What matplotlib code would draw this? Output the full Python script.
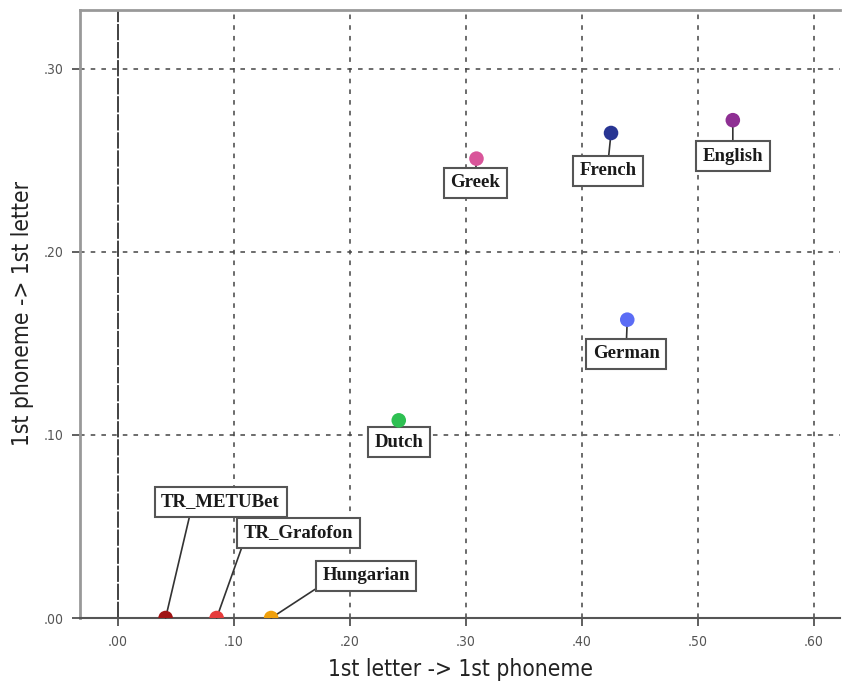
import matplotlib
matplotlib.use("Agg")
import matplotlib.pyplot as plt
from matplotlib import font_manager

languages = ["Greek", "French", "English", "German", "Dutch",
             "TR_METUBet", "TR_Grafofon", "Hungarian"]
letter_to_phoneme = [0.309, 0.425, 0.530, 0.439, 0.242, 0.041, 0.085, 0.132]
phoneme_to_letter = [0.251, 0.265, 0.272, 0.163, 0.108, 0.000, 0.000, 0.000]
colors = ["#d9559a", "#283593", "#8e2f93", "#5b6cf5", "#2ec052",
          "#a01414", "#e63c3c", "#f0a00c"]
# label offsets (pixels) and attachment point on the label box
offsets = [(-1, -24), (-3, -38), (0, -36), (-1, -34), (0, -22),
           (55, 116), (82, 85), (95, 42)]
relpos = [(0.5, 1), (0.5, 1), (0.5, 1), (0.5, 1), (0.5, 1),
          (0.25, 0), (0.0, 0.0), (0.0, 0.0)]

xticks = [0.0, 0.1, 0.2, 0.3, 0.4, 0.5, 0.6]
yticks = [0.0, 0.1, 0.2, 0.3]
fmt = lambda v: "." + f"{v:.2f}".split(".")[1]

cond = None
for f in font_manager.fontManager.ttflist:
    if f.name == "DejaVu Sans" and "Condensed" in f.fname and "Bold" not in f.fname and "Oblique" not in f.fname:
        cond = f.fname
        break
if cond:
    narrow_fp = dict(fontproperties=font_manager.FontProperties(fname=cond))
else:
    narrow_fp = dict(family="DejaVu Sans")

fig = plt.figure(figsize=(8.43, 6.81), dpi=100)
ax = fig.add_axes([80 / 843, 63 / 681, 760 / 843, 608 / 681])
ax.set_xlim(-0.0328, 0.6224)
ax.set_ylim(0, 0.3322)

for x in xticks[1:]:
    ax.axvline(x, color="#444444", lw=1.1, ls=(0, (3, 4)), zorder=1)
for y in yticks[1:]:
    ax.axhline(y, color="#444444", lw=1.1, ls=(0, (3, 4)), zorder=1)
ax.axvline(0, color="#333333", lw=1.3, ls=(0, (9, 1)), zorder=1)

ax.scatter(letter_to_phoneme, phoneme_to_letter, s=110, c=colors,
           zorder=5, clip_on=True, edgecolors="none")

for name, x, y, off, rp in zip(languages, letter_to_phoneme,
                               phoneme_to_letter, offsets, relpos):
    ax.annotate(name, xy=(x, y), xytext=off, textcoords="offset pixels",
                ha="center", va="center", fontsize=13.5, fontweight="bold",
                family=["Liberation Serif", "DejaVu Serif"], color="#1a1a1a",
                bbox=dict(boxstyle="square,pad=0.35", fc="white",
                          ec="#555555", lw=1.5),
                arrowprops=dict(arrowstyle="-", color="#333333", lw=1.2,
                                shrinkA=0, shrinkB=0, relpos=rp),
                zorder=4, annotation_clip=False)

ax.set_xticks(xticks)
ax.set_yticks(yticks)
ax.set_xticklabels([fmt(v) for v in xticks], fontsize=10.5,
                   color="#555555", **narrow_fp)
ax.set_yticklabels([fmt(v) for v in yticks], fontsize=10.5,
                   color="#555555", **narrow_fp)
ax.tick_params(axis="both", direction="out", length=6, width=1.2,
               color="#444444", pad=6)

for side in ["top", "left"]:
    ax.spines[side].set_color("#999999")
    ax.spines[side].set_linewidth(2)
ax.spines["right"].set_visible(False)
ax.spines["bottom"].set_color("#555555")
ax.spines["bottom"].set_linewidth(1.5)

ax.set_xlabel("1st letter -> 1st phoneme", fontsize=16.3,
              color="#222222", labelpad=7, **narrow_fp)
ax.set_ylabel("1st phoneme -> 1st letter", fontsize=16.3,
              color="#222222", labelpad=7, **narrow_fp)

fig.savefig("out.png", dpi=100)
